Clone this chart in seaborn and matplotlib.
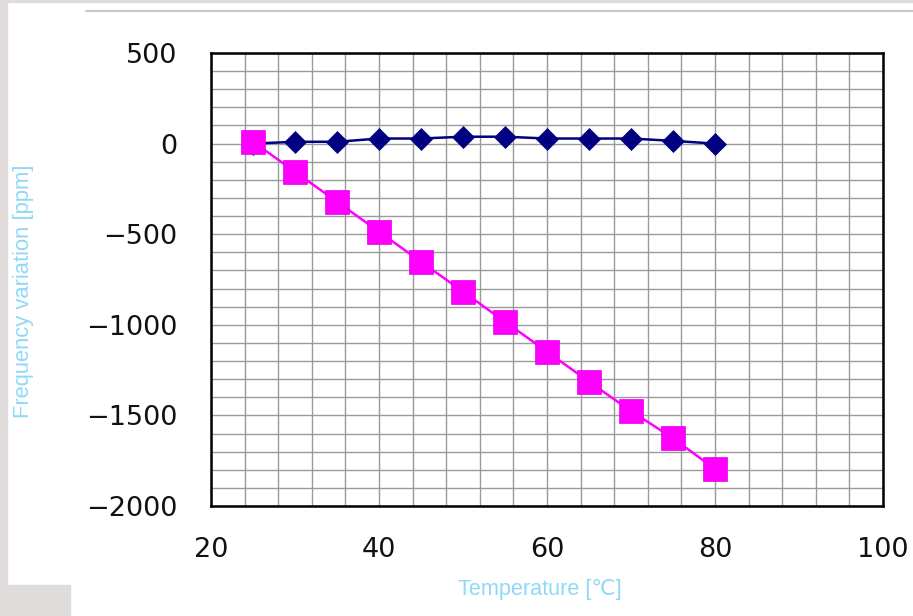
import matplotlib
matplotlib.use("Agg")
import matplotlib.pyplot as plt
from matplotlib.ticker import MultipleLocator
from matplotlib.patches import Rectangle
from matplotlib.lines import Line2D
import seaborn as sns
import pandas as pd

# ---- data ----
temperature = [25, 30, 35, 40, 45, 50, 55, 60, 65, 70, 75, 80]
series_a = [0, 10, 10, 28, 28, 38, 38, 28, 28, 28, 15, 0]          # navy diamonds
series_b = [10, -155, -321, -486, -652, -817, -983, -1148, -1314, -1476, -1626, -1796]  # magenta squares
x_ticks = [20, 40, 60, 80, 100]
y_ticks = [500, 0, -500, -1000, -1500, -2000]

sns.set_style("white")
plt.rcParams["font.family"] = ["Liberation Sans", "DejaVu Sans"]

W, H = 913, 616
fig = plt.figure(figsize=(W / 100, H / 100), dpi=100)
fig.patch.set_facecolor("white")

# page decorations
grey = "#e0dcdc"
fig.add_artist(Rectangle((0, 0), 7 / W, 1, transform=fig.transFigure, color=grey, zorder=0))
fig.add_artist(Rectangle((0, 0), 70 / W, 31 / H, transform=fig.transFigure, color=grey, zorder=0))
fig.add_artist(Rectangle((0, 1 - 2 / H), 1, 2 / H, transform=fig.transFigure, color=grey, zorder=0))
fig.add_artist(Line2D([86 / W, 1], [1 - 10.5 / H, 1 - 10.5 / H], transform=fig.transFigure,
                      color="#c8c8c8", lw=1.5))

left, right, top, bottom = 211, 883, 53, 506
ax = fig.add_axes([left / W, 1 - bottom / H, (right - left) / W, (bottom - top) / H])

df = pd.DataFrame({"T": temperature, "A": series_a, "B": series_b})
sns.lineplot(data=df, x="T", y="A", ax=ax, color="#000080", lw=1.8, marker="D",
             markersize=11.5, markeredgecolor="#000080", markeredgewidth=0.5, zorder=3)
sns.lineplot(data=df, x="T", y="B", ax=ax, color="#ff00ff", lw=1.8, marker="s",
             markersize=17, markeredgecolor="#e000e0", markeredgewidth=0.5, zorder=4)

ax.set_xlim(20, 100)
ax.set_ylim(-2000, 500)
ax.set_xticks(x_ticks)
ax.set_yticks(y_ticks)
ax.xaxis.set_minor_locator(MultipleLocator(4))
ax.yaxis.set_minor_locator(MultipleLocator(100))
ax.grid(True, which="both", color="#9a9a9a", lw=1.0)
ax.set_axisbelow(True)
ax.tick_params(which="both", length=0)
ax.tick_params(axis="y", pad=24, labelsize=19.5, labelcolor="#111111")
ax.tick_params(axis="x", pad=22, labelsize=19.5, labelcolor="#111111")
for lab in ax.get_xticklabels() + ax.get_yticklabels():
    lab.set_fontfamily("DejaVu Sans")

for s in ax.spines.values():
    s.set_visible(True)
    s.set_color("black")
    s.set_linewidth(1.8)

ax.set_xlabel("")
ax.set_ylabel("")
fig.text(540 / W, 1 - 590 / H, "Temperature [℃]", color="#8fd8f8", fontsize=15.6,
         ha="center", va="center")
fig.text(23 / W, 1 - 291 / H, "Frequency variation [ppm]", color="#8fd8f8", fontsize=15.8,
         ha="center", va="center", rotation=90)

fig.savefig("out.png", dpi=100)
